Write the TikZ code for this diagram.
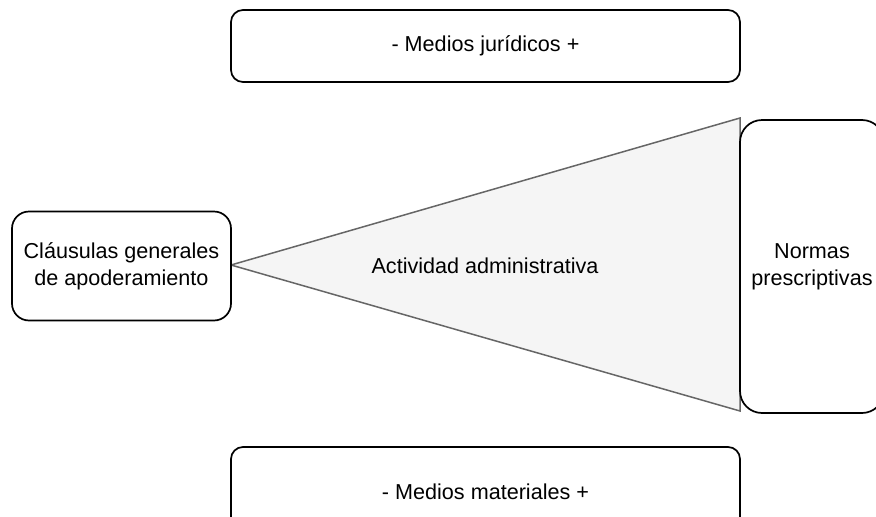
\documentclass[tikz,border=0pt]{standalone}
\usepackage{fontspec}
\setmainfont{Liberation Sans}
\begin{document}
\begin{tikzpicture}[x=1pt,y=-1pt,
  box/.style={draw=black,line width=1.7pt,fill=white,rounded corners=#1,inner sep=0pt,align=center,
    font=\fontsize{21.6}{27}\selectfont},
  box/.default=12pt,
  lbl/.style={font=\fontsize{21.6}{27}\selectfont,text=black,inner sep=0pt}]
\useasboundingbox (0,0) rectangle (876,517);
\begin{scope}
\clip (0,0) rectangle (876,517);
% triangle
\coordinate (apex) at (231,265);
\coordinate (ttop) at (740,118);
\coordinate (tbot) at (740,411);
\draw[draw=black!60,fill=black!4,line width=1.5pt,line join=miter] (apex) -- (ttop) -- (tbot) -- cycle;
\node[lbl] (act) at (485,266) {Actividad administrativa};
% boxes
\node[box=12pt,minimum width=509pt,minimum height=72pt] (jur) at (485.5,46) {- Medios jurídicos +};
\node[box=12pt,minimum width=509pt,minimum height=90pt] (mat) at (485.5,492) {- Medios materiales +};
\node[box=17pt,minimum width=219pt,minimum height=109pt] (cla) at (121.5,266) {Cláusulas generales\\de apoderamiento};
\node[box=22pt,minimum width=144pt,minimum height=293pt] (nor) at (812,266.5) {Normas\\prescriptivas};
\end{scope}
\end{tikzpicture}
\end{document}
